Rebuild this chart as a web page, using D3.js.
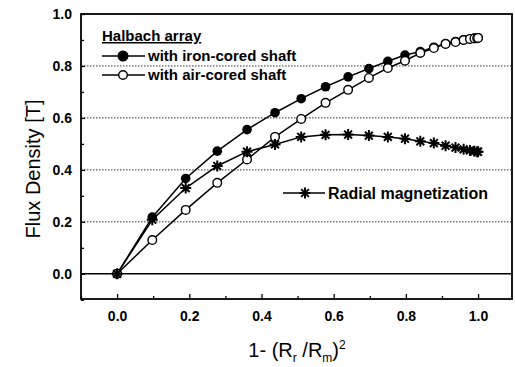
<!DOCTYPE html>
<html>
<head>
<meta charset="utf-8">
<script src="https://cdn.jsdelivr.net/npm/d3@7"></script>
<style>
	body { margin: 0; background: #fff; }
	svg { font-family: "Liberation Sans", Arial, sans-serif; }
</style>
</head>
<body>
<div id="chart"></div>
<script>
// x = 1-(Rr/Rm)^2
var xVals = [0, 0.0975, 0.19, 0.2775, 0.36, 0.4375, 0.51, 0.5775, 0.64, 0.6975, 0.75, 0.7975, 0.84, 0.8775, 0.91, 0.9375, 0.96, 0.9775, 0.99, 0.9975, 1.0];
var ironCored = [0, 0.218, 0.367, 0.472, 0.555, 0.62, 0.674, 0.72, 0.758, 0.79, 0.818, 0.842, 0.855, 0.872, 0.886, 0.894, 0.9, 0.904, 0.907, 0.908, 0.908];
var airCored = [0, 0.13, 0.246, 0.35, 0.44, 0.527, 0.596, 0.658, 0.708, 0.754, 0.792, 0.82, 0.85, 0.869, 0.885, 0.892, 0.9, 0.904, 0.906, 0.907, 0.908];
var radial = [0, 0.208, 0.33, 0.415, 0.47, 0.498, 0.527, 0.535, 0.536, 0.532, 0.527, 0.52, 0.51, 0.503, 0.493, 0.486, 0.479, 0.475, 0.472, 0.47, 0.47];

var xTicks = [0, 0.2, 0.4, 0.6, 0.8, 1.0];
var xMinor = [-0.1, 0.1, 0.3, 0.5, 0.7, 0.9];
var yTicks = [0, 0.2, 0.4, 0.6, 0.8, 1.0];
var yMinor = [-0.1, 0.1, 0.3, 0.5, 0.7, 0.9];
var gridVals = [0.2, 0.4, 0.6, 0.8];

var params = {
	width: 515,
	height: 367,
	margin: {left: 81, top: 14, right: 3, bottom: 68}
};
params.plotW = params.width - params.margin.left - params.margin.right;
params.plotH = params.height - params.margin.top - params.margin.bottom;

var svg = d3.select('#chart')
	.append('svg')
		.attr('width', params.width)
		.attr('height', params.height);

var g = svg.append('g')
	.attr('transform', 'translate(' + params.margin.left + ',' + params.margin.top + ')');

var x = d3.scaleLinear().domain([-0.1, 1.094]).range([0, params.plotW]);
var y = d3.scaleLinear().domain([-0.097, 1.0]).range([params.plotH, 0]);

// dotted grid
g.selectAll('.grid')
	.data(gridVals).enter()
	.append('line')
		.attr('x1', 0).attr('x2', params.plotW)
		.attr('y1', function(d){ return y(d); })
		.attr('y2', function(d){ return y(d); })
		.attr('stroke', '#333')
		.attr('stroke-width', 1)
		.attr('stroke-dasharray', '1.5,1.5');

// zero line
g.append('line')
	.attr('x1', 0).attr('x2', params.plotW)
	.attr('y1', y(0)).attr('y2', y(0))
	.attr('stroke', '#000')
	.attr('stroke-width', 1.5);

// axes with inward ticks
g.append('g')
	.attr('transform', 'translate(0,' + params.plotH + ')')
	.call(d3.axisBottom(x).tickValues(xTicks).tickSize(-5).tickPadding(12).tickFormat(d3.format('.1f')));
g.append('g')
	.attr('transform', 'translate(0,' + params.plotH + ')')
	.call(d3.axisBottom(x).tickValues(xMinor).tickSize(-3).tickFormat(''));

g.append('g')
	.call(d3.axisLeft(y).tickValues(yTicks).tickSize(-4).tickPadding(9).tickFormat(d3.format('.1f')));
g.append('g')
	.call(d3.axisLeft(y).tickValues(yMinor).tickSize(-3).tickFormat(''));

g.selectAll('.domain').remove();
g.selectAll('.tick line').attr('stroke', '#000').attr('stroke-width', 1.3);
g.selectAll('.tick text')
	.attr('fill', '#000')
	.style('font-size', '14px')
	.style('font-weight', 'bold');

// frame
g.append('rect')
	.attr('width', params.plotW)
	.attr('height', params.plotH)
	.attr('fill', 'none')
	.attr('stroke', '#000')
	.attr('stroke-width', 1.8);

// series
var line = d3.line()
	.x(function(d, i){ return x(xVals[i]); })
	.y(function(d){ return y(d); });

function starPath(r){
	var p = '';
	for (var k = 0; k < 4; k++){
		var a = k * Math.PI / 4;
		p += 'M' + (-r * Math.cos(a)) + ',' + (-r * Math.sin(a)) + 'L' + (r * Math.cos(a)) + ',' + (r * Math.sin(a));
	}
	return p;
}

[radial, ironCored, airCored].forEach(function(s){
	g.append('path')
		.datum(s)
		.attr('d', line)
		.attr('fill', 'none')
		.attr('stroke', '#000')
		.attr('stroke-width', 1.5);
});

g.selectAll('.iron')
	.data(ironCored).enter()
	.append('circle')
		.attr('class', 'iron')
		.attr('cx', function(d, i){ return x(xVals[i]); })
		.attr('cy', function(d){ return y(d); })
		.attr('r', 4.8)
		.attr('fill', '#000');

g.selectAll('.air')
	.data(airCored).enter()
	.append('circle')
		.attr('class', 'air')
		.attr('cx', function(d, i){ return x(xVals[i]); })
		.attr('cy', function(d){ return y(d); })
		.attr('r', 4.3)
		.attr('fill', '#fff')
		.attr('stroke', '#000')
		.attr('stroke-width', 1.4);

g.selectAll('.star')
	.data(radial).enter()
	.append('path')
		.attr('class', 'star')
		.attr('transform', function(d, i){ return 'translate(' + x(xVals[i]) + ',' + y(d) + ')'; })
		.attr('d', starPath(5.5))
		.attr('stroke', '#000')
		.attr('stroke-width', 2);

// legend
var leg = svg.append('g');
leg.append('text')
	.attr('x', 102).attr('y', 41)
	.style('font-size', '15px')
	.style('font-weight', 'bold')
	.style('text-decoration', 'underline')
	.text('Halbach array');

var legRows = [
	{label: 'with iron-cored shaft', y: 56, type: 'iron'},
	{label: 'with air-cored shaft', y: 75, type: 'air'}
];
legRows.forEach(function(r){
	leg.append('line')
		.attr('x1', 102).attr('x2', 145)
		.attr('y1', r.y).attr('y2', r.y)
		.attr('stroke', '#000').attr('stroke-width', 1.5);
	leg.append('circle')
		.attr('cx', 123).attr('cy', r.y)
		.attr('r', r.type == 'iron' ? 4.8 : 4.3)
		.attr('fill', r.type == 'iron' ? '#000' : '#fff')
		.attr('stroke', '#000').attr('stroke-width', 1.4);
	leg.append('text')
		.attr('x', 148).attr('y', r.y + 5)
		.style('font-size', '15px')
		.style('font-weight', 'bold')
		.text(r.label);
});

leg.append('line')
	.attr('x1', 283).attr('x2', 325)
	.attr('y1', 193).attr('y2', 193)
	.attr('stroke', '#000').attr('stroke-width', 1.5);
leg.append('path')
	.attr('transform', 'translate(305,193)')
	.attr('d', starPath(5.5))
	.attr('stroke', '#000').attr('stroke-width', 2);
leg.append('text')
	.attr('x', 328).attr('y', 199)
	.style('font-size', '16px')
	.style('font-weight', 'bold')
	.text('Radial magnetization');

// axis titles
svg.append('text')
	.attr('transform', 'translate(40,169) rotate(-90)')
	.attr('text-anchor', 'middle')
	.style('font-size', '20px')
	.text('Flux Density [T]');

var xt = svg.append('text')
	.attr('x', 297).attr('y', 357)
	.attr('text-anchor', 'middle')
	.style('font-size', '20px');
xt.append('tspan').text('1- (R');
xt.append('tspan').attr('dy', 5).style('font-size', '12px').text('r');
xt.append('tspan').attr('dy', -5).text(' /R');
xt.append('tspan').attr('dy', 5).style('font-size', '12px').text('m');
xt.append('tspan').attr('dy', -5).text(')');
xt.append('tspan').attr('dy', -8).style('font-size', '12px').text('2');
</script>
</body>
</html>
